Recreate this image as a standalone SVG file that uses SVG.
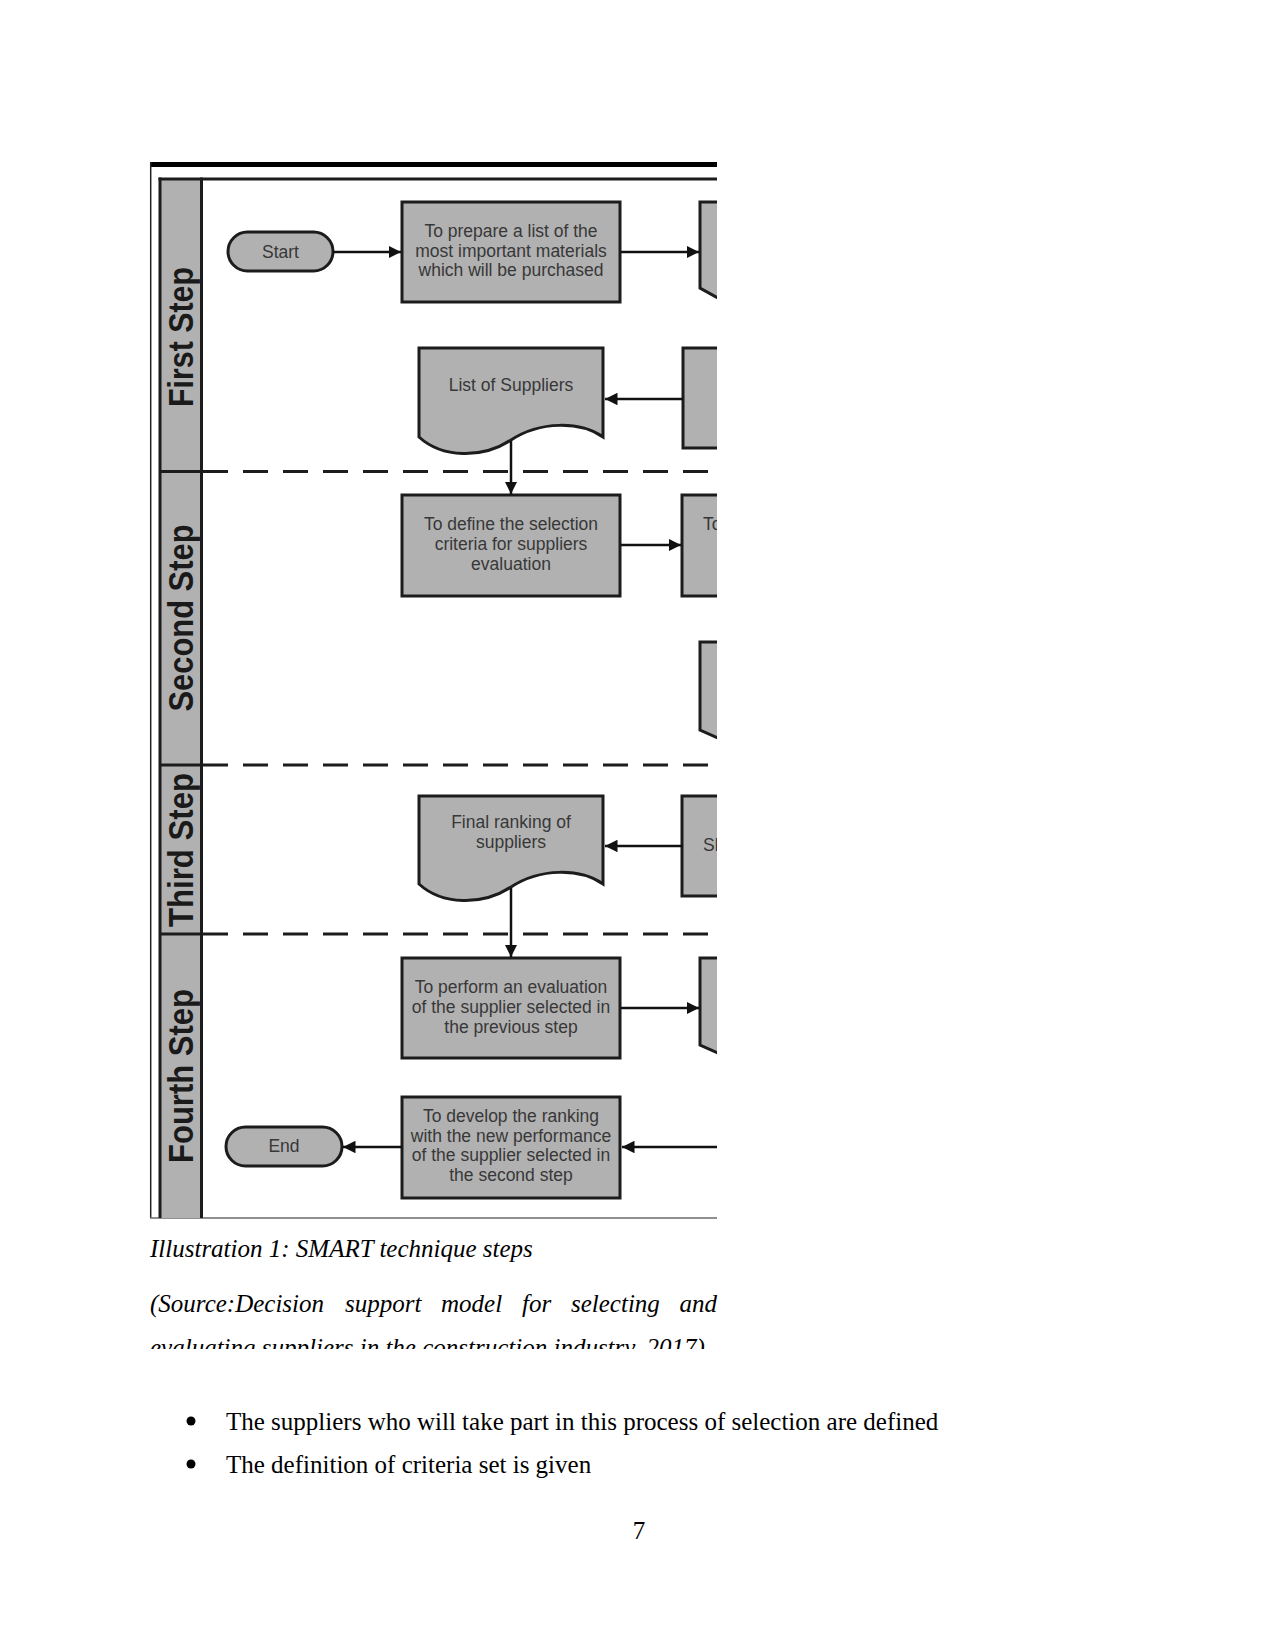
<svg xmlns="http://www.w3.org/2000/svg" width="1275" height="1650" viewBox="0 0 1275 1650">
<style>
.box{fill:#b1b1b1;stroke:#1c1c1c;stroke-width:3}
.lane{fill:#b1b1b1;stroke:none}
.bl{stroke:#1c1c1c;stroke-width:3;fill:none}
.t{font-family:"Liberation Sans",Arial,sans-serif;font-size:17.5px;fill:#383838;text-anchor:middle}
.tl{font-family:"Liberation Sans",Arial,sans-serif;font-size:17.5px;fill:#383838}
.lt{font-family:"Liberation Sans",Arial,sans-serif;font-weight:bold;font-size:35px;fill:#1a1a1a;text-anchor:middle}
.dash{stroke:#1c1c1c;stroke-width:3;stroke-dasharray:25 15;fill:none}
.c{stroke:#111;stroke-width:2.5;fill:none;marker-end:url(#ah)}
.cap{font-family:"Liberation Serif","Times New Roman",serif;font-style:italic;font-size:25px;fill:#000}
.body{font-family:"Liberation Serif","Times New Roman",serif;font-size:25px;fill:#000}
</style>
<defs>
<marker id="ah" viewBox="0 0 10 10" refX="10" refY="5" markerWidth="5" markerHeight="5" orient="auto" markerUnits="strokeWidth">
<path d="M0,0 L10,5 L0,10 Z" fill="#111"/>
</marker>
<clipPath id="dc"><rect x="0" y="0" width="717" height="1650"/></clipPath>
<clipPath id="srcclip"><rect x="0" y="1200" width="1275" height="149"/></clipPath>
</defs>
<rect width="1275" height="1650" fill="#fff"/>
<g id="frame" clip-path="url(#dc)">
<rect x="150" y="162" width="567" height="5" fill="#000"/>
<line x1="150.7" y1="162" x2="150.7" y2="1218" stroke="#222" stroke-width="1.5"/>
<line x1="150" y1="1218" x2="717" y2="1218" stroke="#6a6a6a" stroke-width="1.5"/>
<rect class="lane" x="160" y="179" width="41.5" height="1039"/>
<line class="bl" x1="160" y1="177.5" x2="160" y2="1218"/>
<line class="bl" x1="201.5" y1="177.5" x2="201.5" y2="1218"/>
<line class="bl" x1="158.5" y1="179" x2="717" y2="179"/>
<line class="bl" x1="160" y1="471.5" x2="201.5" y2="471.5"/>
<line class="bl" x1="160" y1="765" x2="201.5" y2="765"/>
<line class="bl" x1="160" y1="934" x2="201.5" y2="934"/>
<line class="dash" x1="203" y1="471.5" x2="717" y2="471.5"/>
<line class="dash" x1="203" y1="765" x2="717" y2="765"/>
<line class="dash" x1="203" y1="934" x2="717" y2="934"/>
</g>
<g id="lane1"><text class="lt" transform="translate(193,337) rotate(-90)" textLength="140" lengthAdjust="spacingAndGlyphs">First Step</text></g>
<g id="lane2"><text class="lt" transform="translate(193,618) rotate(-90)" textLength="187" lengthAdjust="spacingAndGlyphs">Second Step</text></g>
<g id="lane3"><text class="lt" transform="translate(193,850) rotate(-90)" textLength="154" lengthAdjust="spacingAndGlyphs">Third Step</text></g>
<g id="lane4"><text class="lt" transform="translate(193,1076) rotate(-90)" textLength="174" lengthAdjust="spacingAndGlyphs">Fourth Step</text></g>

<g id="start"><rect class="box" x="228" y="232" width="105" height="39" rx="19.5"/><text class="t" x="280.5" y="257.5">Start</text></g>
<g id="prepare"><rect class="box" x="402" y="202" width="218" height="100"/>
<text class="t" x="511" y="237">To prepare a list of the</text>
<text class="t" x="511" y="257">most important materials</text>
<text class="t" x="511" y="276">which will be purchased</text></g>
<g id="listSuppliers"><path class="box" d="M419,348 H603 V437 C580,421 540,421 511,440 C482,459 442,458 419,437 Z"/>
<text class="t" x="511" y="391">List of Suppliers</text></g>
<g id="defineCriteria"><rect class="box" x="402" y="495" width="218" height="101"/>
<text class="t" x="511" y="530">To define the selection</text>
<text class="t" x="511" y="550">criteria for suppliers</text>
<text class="t" x="511" y="570">evaluation</text></g>
<g id="finalRanking"><path class="box" d="M419,796 H603 V884 C580,868 540,868 511,887 C482,906 442,905 419,884 Z"/>
<text class="t" x="511" y="828">Final ranking of</text>
<text class="t" x="511" y="848">suppliers</text></g>
<g id="performEval"><rect class="box" x="402" y="958" width="218" height="100"/>
<text class="t" x="511" y="993">To perform an evaluation</text>
<text class="t" x="511" y="1013">of the supplier selected in</text>
<text class="t" x="511" y="1033">the previous step</text></g>
<g id="developRanking"><rect class="box" x="402" y="1097" width="218" height="101"/>
<text class="t" x="511" y="1122">To develop the ranking</text>
<text class="t" x="511" y="1142">with the new performance</text>
<text class="t" x="511" y="1161">of the supplier selected in</text>
<text class="t" x="511" y="1181">the second step</text></g>
<g id="end"><rect class="box" x="226" y="1127" width="116" height="39" rx="19.5"/><text class="t" x="284" y="1152">End</text></g>

<g id="partials" clip-path="url(#dc)">
<g id="p1"><path class="box" d="M740,202 H700 V288 L718,298 L740,305"/></g>
<g id="p2"><rect class="box" x="683" y="348" width="60" height="100"/></g>
<g id="p3"><rect class="box" x="682" y="495" width="60" height="101"/><text class="tl" x="703" y="530">To</text></g>
<g id="p4"><path class="box" d="M740,642 H700 V730 L718,738 L740,745"/></g>
<g id="p5"><rect class="box" x="682" y="796" width="60" height="100"/><text class="tl" x="703" y="851">Sl</text></g>
<g id="p6"><path class="box" d="M740,958 H700 V1045 L718,1053 L740,1060"/></g>
</g>

<g id="connectors" clip-path="url(#dc)">
<line class="c" x1="333" y1="252" x2="401" y2="252"/>
<line class="c" x1="621" y1="252" x2="699" y2="252"/>
<line class="c" x1="683" y1="399" x2="605" y2="399"/>
<line class="c" x1="511" y1="441" x2="511" y2="494"/>
<line class="c" x1="621" y1="545" x2="681" y2="545"/>
<line class="c" x1="683" y1="846" x2="605" y2="846"/>
<line class="c" x1="511" y1="888" x2="511" y2="957"/>
<line class="c" x1="621" y1="1008" x2="699" y2="1008"/>
<line class="c" x1="720" y1="1147" x2="622" y2="1147"/>
<line class="c" x1="402" y1="1147" x2="343" y2="1147"/>
</g>

<g id="caption">
<text class="cap" x="150" y="1257">Illustration 1: SMART technique steps</text>
<text class="cap" x="150" y="1312">(Source:Decision</text>
<text class="cap" x="345" y="1312">support</text>
<text class="cap" x="441" y="1312">model</text>
<text class="cap" x="522" y="1312">for</text>
<text class="cap" x="571" y="1312">selecting</text>
<text class="cap" x="717" y="1312" text-anchor="end">and</text>
<text class="cap" x="150" y="1356" clip-path="url(#srcclip)">evaluating suppliers in the construction industry, 2017)</text>
</g>
<g id="bullets">
<circle cx="191" cy="1421" r="4.5" fill="#000"/>
<text class="body" x="226" y="1430">The suppliers who will take part in this process of selection are defined</text>
<circle cx="191" cy="1464" r="4.5" fill="#000"/>
<text class="body" x="226" y="1473">The definition of criteria set is given</text>
</g>
<text class="body" x="639" y="1539" text-anchor="middle">7</text>
</svg>
